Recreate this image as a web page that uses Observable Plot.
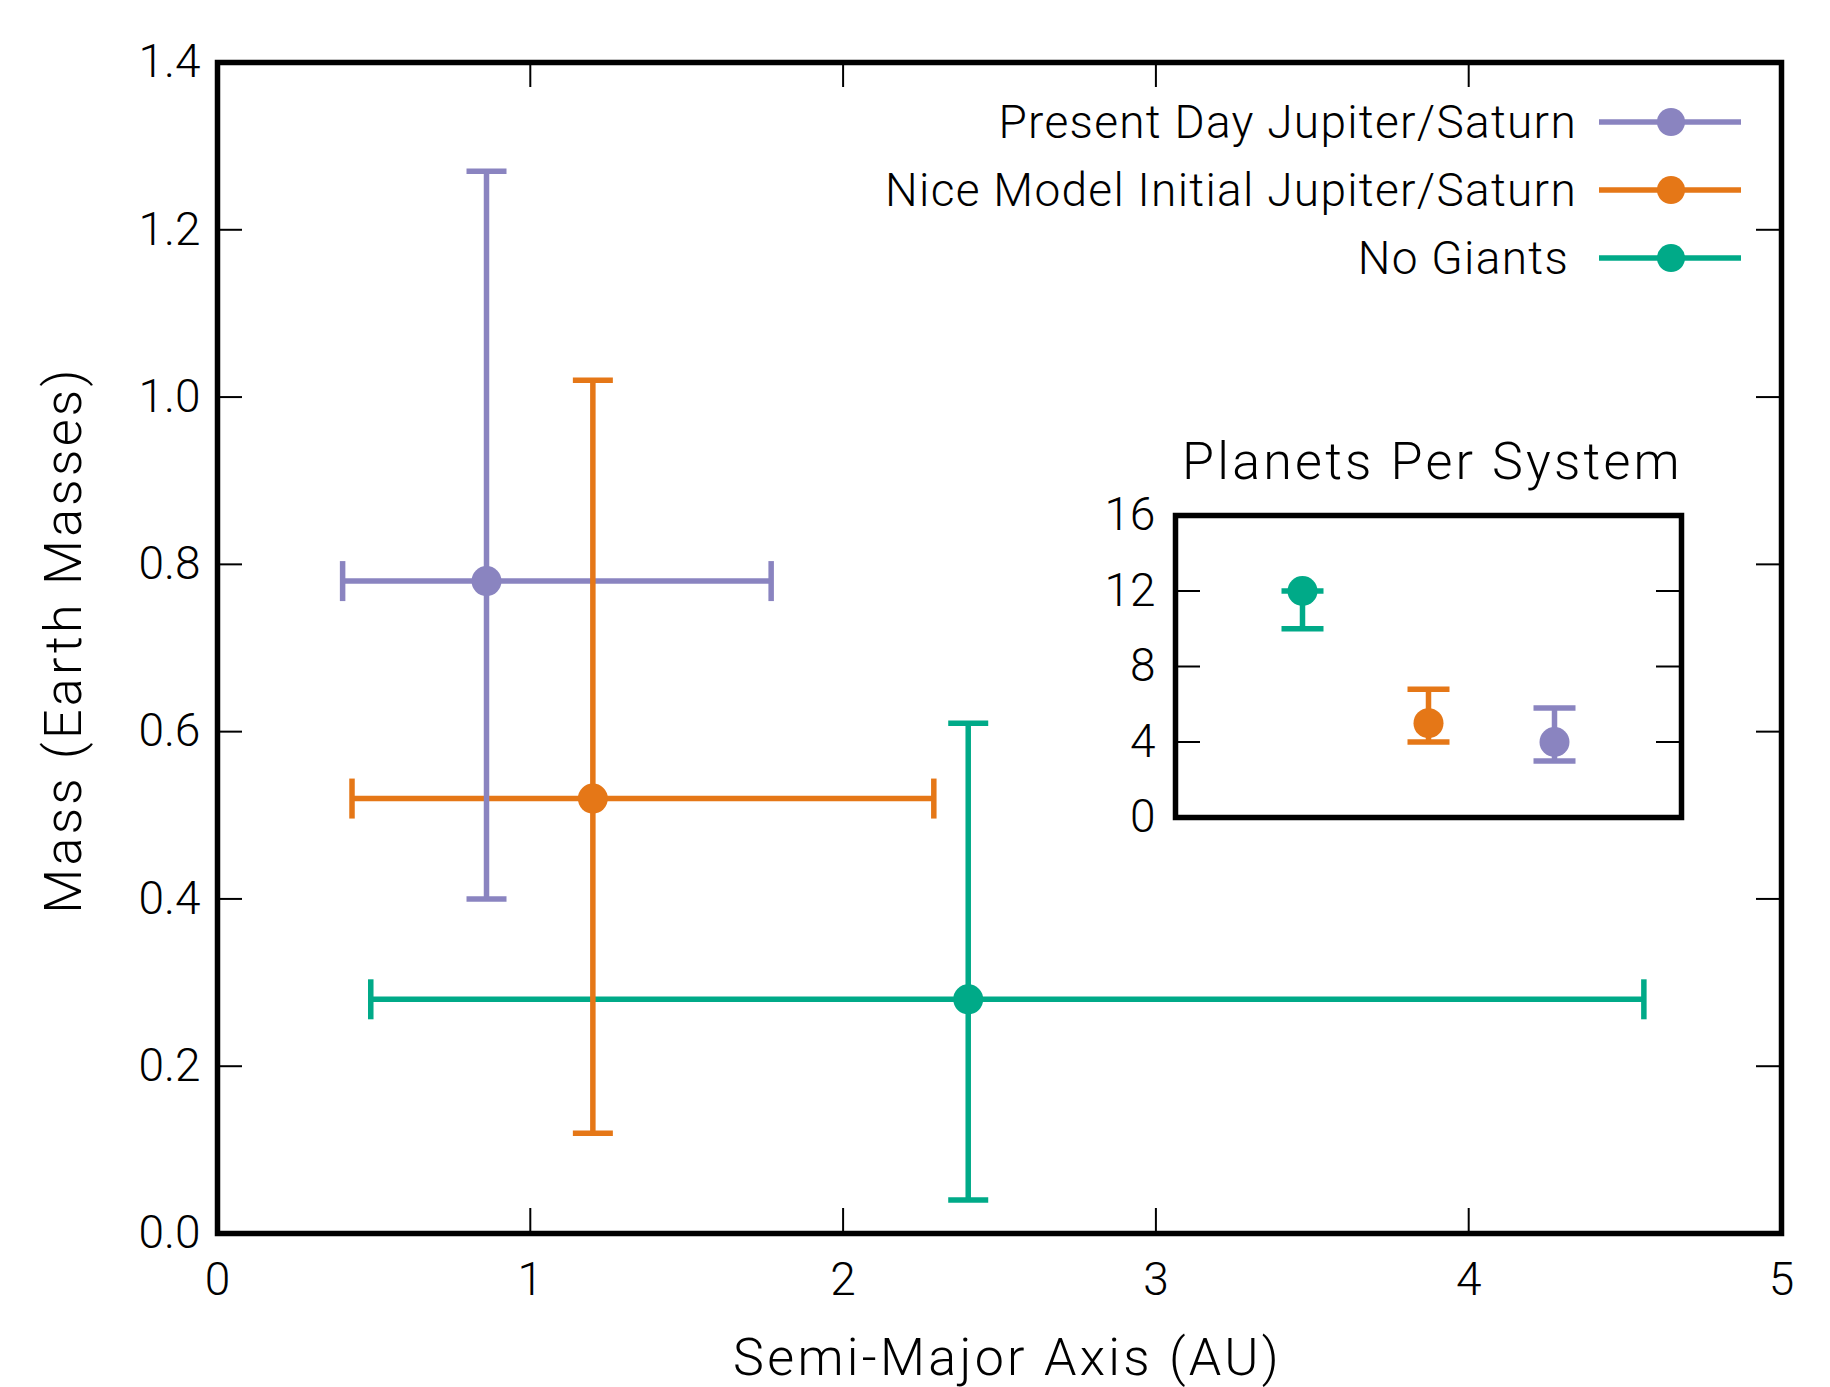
<!DOCTYPE html>
<html><head><meta charset="utf-8">
<script src="https://cdn.jsdelivr.net/npm/d3@7"></script>
<script src="https://cdn.jsdelivr.net/npm/@observablehq/plot@0.6"></script>
<style>
body{margin:0;background:#fff;}
#wrap{position:relative;width:1830px;height:1387px;overflow:hidden;font-family:Roboto,"Liberation Sans",sans-serif;font-weight:300;color:#000;}
#main,#inset,#legend,#insetTitle{position:absolute;}
#main{left:0;top:0;}
#inset{left:1080px;top:420px;}
#insetTitle{left:1180px;width:505px;top:432px;text-align:center;font-size:52px;letter-spacing:3.2px;line-height:60px;white-space:nowrap;}
#legend{right:89px;top:88px;}
.row{display:flex;align-items:center;justify-content:flex-end;height:68px;font-size:46px;letter-spacing:1.3px;white-space:nowrap;}
.row svg{margin-left:22px;}
.row:last-child span{margin-right:8px;}
</style></head><body><div id="wrap"><div id="main"></div><div id="inset"></div><div id="insetTitle">Planets Per System</div><div id="legend"></div></div>
<script>
// ---- data ----
const series = ["Present Day Jupiter/Saturn", "Nice Model Initial Jupiter/Saturn", "No Giants"];
const colors = ["#8a84c0", "#e57717", "#00aa88"];
const semiMajorAxis = [0.86, 1.20, 2.40];
const semiMajorLow = [0.40, 0.43, 0.49];
const semiMajorHigh = [1.77, 2.29, 4.56];
const mass = [0.78, 0.52, 0.28];
const massLow = [0.40, 0.12, 0.04];
const massHigh = [1.27, 1.02, 0.61];
const planetsPerSystem = [4, 5, 12];
const planetsLow = [3, 4, 10];
const planetsHigh = [5.8, 6.8, 12];
const insetOrder = ["No Giants", "Nice Model Initial Jupiter/Saturn", "Present Day Jupiter/Saturn"];
const xTicks = [0, 1, 2, 3, 4, 5];
const yTicks = [0, 0.2, 0.4, 0.6, 0.8, 1.0, 1.2, 1.4];
const insetTicks = [0, 4, 8, 12, 16];

const rows = series.map((s, i) => ({
  series: s, color: colors[i],
  a: semiMajorAxis[i], aLo: semiMajorLow[i], aHi: semiMajorHigh[i],
  m: mass[i], mLo: massLow[i], mHi: massHigh[i],
  n: planetsPerSystem[i], nLo: planetsLow[i], nHi: planetsHigh[i]
}));

const FONT = 'Roboto, "Liberation Sans", sans-serif';
const vCap = (half) => ({draw(ctx) { ctx.moveTo(0, -half); ctx.lineTo(0, half); }});
const hCap = (half) => ({draw(ctx) { ctx.moveTo(-half, 0); ctx.lineTo(half, 0); }});
const LW = 5.5;

// ---- main chart ----
const W = 1830, H = 1387, mL = 217, mR = 49, mT = 62, mB = 154;
const iW = W - mL - mR, iH = H - mT - mB, TICK = 25;
const innerX = xTicks.slice(1, -1), innerY = yTicks.slice(1, -1);

const main = Plot.plot({
  width: W, height: H,
  marginLeft: mL, marginRight: mR, marginTop: mT, marginBottom: mB,
  style: {fontFamily: FONT, fontSize: "46px", fontWeight: 300, background: "transparent", overflow: "visible"},
  x: {domain: [0, 5]},
  y: {domain: [0, 1.4]},
  marks: [
    Plot.tickY(innerY, {y: d => d, insetRight: iW - TICK, strokeWidth: 2}),
    Plot.tickY(innerY, {y: d => d, insetLeft: iW - TICK, strokeWidth: 2}),
    Plot.tickX(innerX, {x: d => d, insetBottom: iH - TICK, strokeWidth: 2}),
    Plot.tickX(innerX, {x: d => d, insetTop: iH - TICK, strokeWidth: 2}),
    Plot.link(rows, {x1: "aLo", x2: "aHi", y1: "m", y2: "m", stroke: "color", strokeWidth: LW}),
    Plot.link(rows, {x1: "a", x2: "a", y1: "mLo", y2: "mHi", stroke: "color", strokeWidth: LW}),
    Plot.dot(rows, {x: "aLo", y: "m", symbol: vCap(20), stroke: "color", strokeWidth: LW, fill: "none"}),
    Plot.dot(rows, {x: "aHi", y: "m", symbol: vCap(20), stroke: "color", strokeWidth: LW, fill: "none"}),
    Plot.dot(rows, {x: "a", y: "mLo", symbol: hCap(20), stroke: "color", strokeWidth: LW, fill: "none"}),
    Plot.dot(rows, {x: "a", y: "mHi", symbol: hCap(20), stroke: "color", strokeWidth: LW, fill: "none"}),
    Plot.dot(rows, {x: "a", y: "m", r: 15, fill: "color", stroke: null}),
    Plot.frame({strokeWidth: 5.5}),
    Plot.axisX({ticks: xTicks, tickSize: 0, tickPadding: 29, tickFormat: d => String(d),
      label: "Semi-Major Axis (AU)", labelAnchor: "center", labelArrow: "none", labelOffset: 141, fontSize: 46}),
    Plot.axisY({ticks: yTicks, tickSize: 0, tickPadding: 17, tickFormat: d3.format(".1f"),
      label: "Mass (Earth Masses)", labelAnchor: "center", labelArrow: "none", labelOffset: 173, fontSize: 46})
  ]
});
document.getElementById("main").appendChild(main);
d3.select(main).selectAll("g[aria-label='x-axis label'] text")
  .attr("font-size", 52).style("letter-spacing", "3.3px").attr("dx", 8);
d3.select(main).selectAll("g[aria-label='y-axis label'] text")
  .attr("font-size", 52).style("letter-spacing", "3.3px").attr("dx", 8);

// ---- inset chart ----
const iw = 620, ih = 420, imL = 95, imR = 19, imT = 95, imB = 23;
const inset = Plot.plot({
  width: iw, height: ih,
  marginLeft: imL, marginRight: imR, marginTop: imT, marginBottom: imB,
  style: {fontFamily: FONT, fontSize: "46px", fontWeight: 300, background: "transparent", overflow: "visible"},
  x: {type: "point", domain: insetOrder, padding: 1, axis: null},
  y: {domain: [0, 16]},
  marks: [
    Plot.tickY(insetTicks.slice(1, -1), {y: d => d, insetRight: iw - imL - imR - TICK, strokeWidth: 2}),
    Plot.tickY(insetTicks.slice(1, -1), {y: d => d, insetLeft: iw - imL - imR - TICK, strokeWidth: 2}),
    Plot.link(rows, {x1: "series", x2: "series", y1: "nLo", y2: "nHi", stroke: "color", strokeWidth: LW}),
    Plot.dot(rows, {x: "series", y: "nLo", symbol: hCap(21), stroke: "color", strokeWidth: LW, fill: "none"}),
    Plot.dot(rows, {x: "series", y: "nHi", symbol: hCap(21), stroke: "color", strokeWidth: LW, fill: "none"}),
    Plot.dot(rows, {x: "series", y: "n", r: 15, fill: "color", stroke: null}),
    Plot.frame({strokeWidth: 5.5}),
    Plot.axisY({ticks: insetTicks, tickSize: 0, tickPadding: 20, label: null, fontSize: 46})
  ]
});
document.getElementById("inset").appendChild(inset);

// ---- legend ----
const legend = d3.select("#legend");
rows.forEach(r => {
  const row = legend.append("div").attr("class", "row");
  row.append("span").text(r.series);
  const s = row.append("svg").attr("width", 142).attr("height", 34);
  s.append("line").attr("x1", 0).attr("x2", 142).attr("y1", 17).attr("y2", 17).attr("stroke", r.color).attr("stroke-width", 5.5);
  s.append("circle").attr("cx", 72).attr("cy", 17).attr("r", 14).attr("fill", r.color);
});
</script></body></html>
